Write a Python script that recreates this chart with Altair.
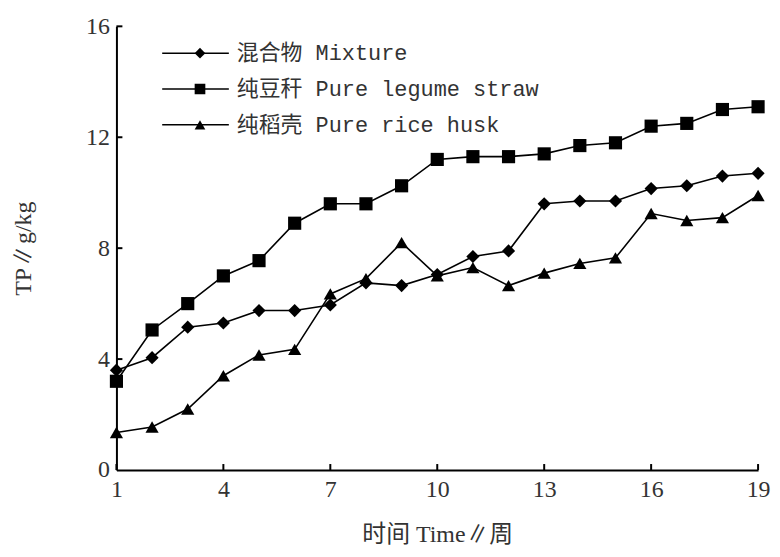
import altair as alt
import pandas as pd

weeks = list(range(1, 20))
series_names = ["混合物 Mixture", "纯豆秆 Pure legume straw", "纯稻壳 Pure rice husk"]
mixture = [3.6, 4.05, 5.15, 5.3, 5.75, 5.75, 5.95, 6.75, 6.65, 7.05, 7.7, 7.9, 9.6, 9.7, 9.7, 10.15, 10.25, 10.6, 10.7]
legume = [3.2, 5.05, 6.0, 7.0, 7.55, 8.9, 9.6, 9.6, 10.25, 11.2, 11.3, 11.3, 11.4, 11.7, 11.8, 12.4, 12.5, 13.0, 13.1]
rice = [1.35, 1.55, 2.2, 3.4, 4.15, 4.35, 6.35, 6.9, 8.2, 7.0, 7.3, 6.65, 7.1, 7.45, 7.65, 9.25, 9.0, 9.1, 9.9]
x_ticks = [1, 4, 7, 10, 13, 16, 19]
y_ticks = [0, 4, 8, 12, 16]

rows = []
for name, vals in zip(series_names, [mixture, legume, rice]):
    for w, v in zip(weeks, vals):
        rows.append({"week": w, "tp": v, "series": name, "line_group": "L " + name})
df = pd.DataFrame(rows)

W, H = 645, 446
LAT_CJK_SERIF = "Liberation Serif, Noto Sans CJK SC"
MONO_CJK = "Liberation Mono, Noto Sans CJK SC"

xs = alt.Scale(domain=[1, 19], nice=False, zero=False)
ys = alt.Scale(domain=[0, 16], nice=False)

x_axis = alt.Axis(values=x_ticks, title="时间 Time∥周", ticks=False, grid=False,
                  domainColor="black", domainWidth=2,
                  labelFont="Liberation Serif", labelFontSize=24, labelColor="#333",
                  labelPadding=8, labelFlush=False, labelOverlap=False,
                  titleFont=LAT_CJK_SERIF, titleFontSize=24, titleFontWeight="normal",
                  titleColor="#333", titlePadding=21)
y_axis = alt.Axis(values=y_ticks, title="TP∥g/kg", ticks=False, grid=False,
                  domainColor="black", domainWidth=2,
                  labelFont="Liberation Serif", labelFontSize=24, labelColor="#333",
                  labelPadding=7, labelOverlap=False,
                  titleFont=LAT_CJK_SERIF, titleFontSize=24, titleFontWeight="normal",
                  titleColor="#333", titlePadding=50)

ROW_H, ROW_PAD, LEG_Y = 22, 14, 16

line_legend = alt.Legend(
    title=None, orient="none", legendX=45, legendY=LEG_Y, padding=0,
    symbolType="stroke", symbolSize=4489, symbolStrokeWidth=1.6,
    labelExpr="''", labelFontSize=22, labelFont=MONO_CJK,
    clipHeight=ROW_H, rowPadding=ROW_PAD,
)
lines = alt.Chart(df).mark_line(strokeWidth=1.6).encode(
    x=alt.X("week:Q", scale=xs, axis=x_axis),
    y=alt.Y("tp:Q", scale=ys, axis=y_axis),
    color=alt.Color("line_group:N",
                    scale=alt.Scale(range=["black", "black", "black"]),
                    legend=line_legend),
)

shape_legend = alt.Legend(
    title=None, orient="none", legendX=73, legendY=LEG_Y, padding=0,
    labelFont=MONO_CJK, labelFontSize=22, labelColor="#333", labelLimit=500,
    symbolSize=115, labelOffset=26, symbolFillColor="black", symbolStrokeColor="black",
    symbolStrokeWidth=1.0, clipHeight=ROW_H, rowPadding=ROW_PAD,
)
points = alt.Chart(df).mark_point(filled=True, color="black", opacity=1, size=175).encode(
    x=alt.X("week:Q", scale=xs),
    y=alt.Y("tp:Q", scale=ys),
    shape=alt.Shape("series:N", scale=alt.Scale(domain=series_names,
                    range=["diamond", "square", "triangle-up"]), legend=shape_legend),
)

xt = pd.DataFrame({"v": x_ticks})
yt = pd.DataFrame({"v": y_ticks[1:]})
xtick = alt.Chart(xt).mark_rule(color="black", strokeWidth=2).encode(
    x=alt.X("v:Q", scale=xs), y=alt.value(H), y2=alt.value(H - 6))
ytick = alt.Chart(yt).mark_rule(color="black", strokeWidth=2).encode(
    y=alt.Y("v:Q", scale=ys), x=alt.value(0), x2=alt.value(6))

chart = alt.layer(lines, points, xtick, ytick).properties(
    width=W, height=H,
    autosize=alt.AutoSizeParams(type="none"),
    padding={"left": 109, "top": 17, "right": 14, "bottom": 82},
).configure_view(stroke=None)

chart.save("out.html", embed_options={"renderer": "svg", "actions": False})
